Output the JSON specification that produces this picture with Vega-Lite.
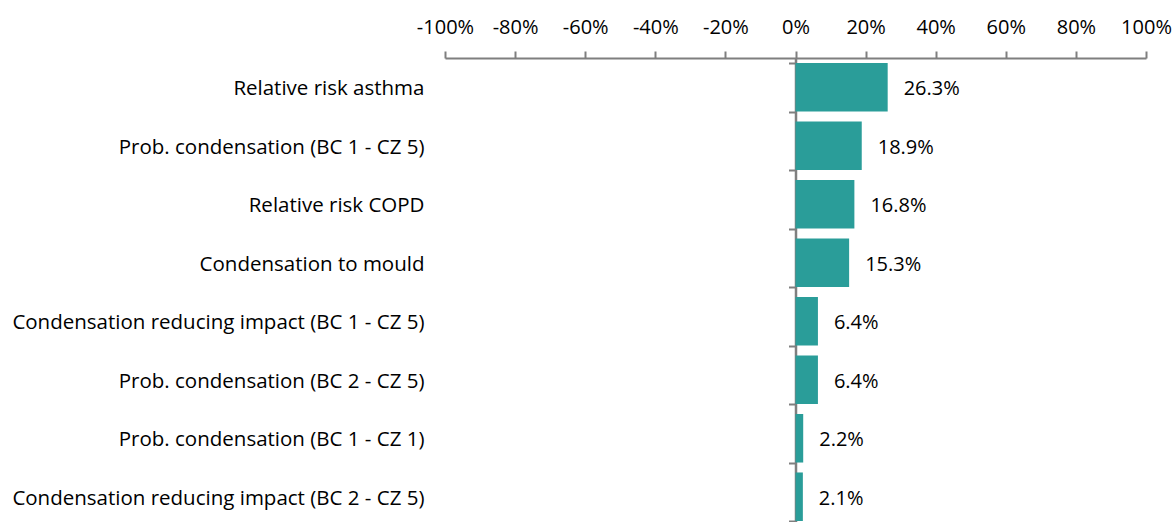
{
  "$schema": "https://vega.github.io/schema/vega-lite/v6.json",
  "autosize": "none",
  "width": 701,
  "height": 468,
  "padding": {"left": 445, "top": 58, "right": 29, "bottom": 0},
  "background": "white",
  "config": {
    "view": {"stroke": null},
    "font": "Open Sans",
    "axis": {"grid": false}
  },
  "data": {
    "values": [
      {"factor": "Relative risk asthma", "value": 0.263, "label": "26.3%"},
      {"factor": "Prob. condensation (BC 1 - CZ 5)", "value": 0.189, "label": "18.9%"},
      {"factor": "Relative risk COPD", "value": 0.168, "label": "16.8%"},
      {"factor": "Condensation to mould", "value": 0.153, "label": "15.3%"},
      {"factor": "Condensation reducing impact (BC 1 - CZ 5)", "value": 0.064, "label": "6.4%"},
      {"factor": "Prob. condensation (BC 2 - CZ 5)", "value": 0.064, "label": "6.4%"},
      {"factor": "Prob. condensation (BC 1 - CZ 1)", "value": 0.022, "label": "2.2%"},
      {"factor": "Condensation reducing impact (BC 2 - CZ 5)", "value": 0.021, "label": "2.1%"}
    ]
  },
  "layer": [
    {
      "mark": {"type": "bar", "color": "#2A9D99"},
      "encoding": {
        "y": {
          "field": "factor", "type": "nominal", "sort": null,
          "scale": {"paddingInner": 0.17},
          "axis": {
            "orient": "left", "title": null, "domain": false, "ticks": false,
            "labelPadding": 21, "labelFontSize": 20.5, "labelColor": "#000000",
            "labelFont": "Open Sans", "labelLimit": 500, "labelOffset": 2
          }
        },
        "x": {
          "field": "value", "type": "quantitative",
          "scale": {"domain": [-1, 1], "nice": false},
          "axis": {
            "orient": "top", "title": null, "format": ".0%",
            "labelExpr": "replace(datum.label, '\u2212', '-')",
            "values": [-1, -0.8, -0.6, -0.4, -0.2, 0, 0.2, 0.4, 0.6, 0.8, 1],
            "labelOverlap": false, "labelBound": false, "labelFlush": false,
            "domainColor": "#7F7F7F", "domainWidth": 2,
            "tickColor": "#7F7F7F", "tickWidth": 2, "tickSize": 7,
            "labelPadding": 14, "labelFontSize": 20, "labelColor": "#000000",
            "labelFont": "Open Sans"
          }
        }
      }
    },
    {
      "mark": {"type": "text", "align": "left", "baseline": "middle", "dx": 16, "dy": 2, "fontSize": 20, "color": "#000000", "font": "Open Sans"},
      "encoding": {
        "y": {
          "field": "factor", "type": "nominal", "sort": null,
          "axis": {
            "orient": "left", "title": null, "labels": false,
            "offset": -350.5, "domainColor": "#7F7F7F", "domainWidth": 2.5,
            "tickColor": "#7F7F7F", "tickWidth": 2, "tickSize": 7, "tickBand": "extent"
          }
        },
        "x": {"field": "value", "type": "quantitative"},
        "text": {"field": "label"}
      }
    }
  ],
  "resolve": {"axis": {"y": "independent"}}
}
